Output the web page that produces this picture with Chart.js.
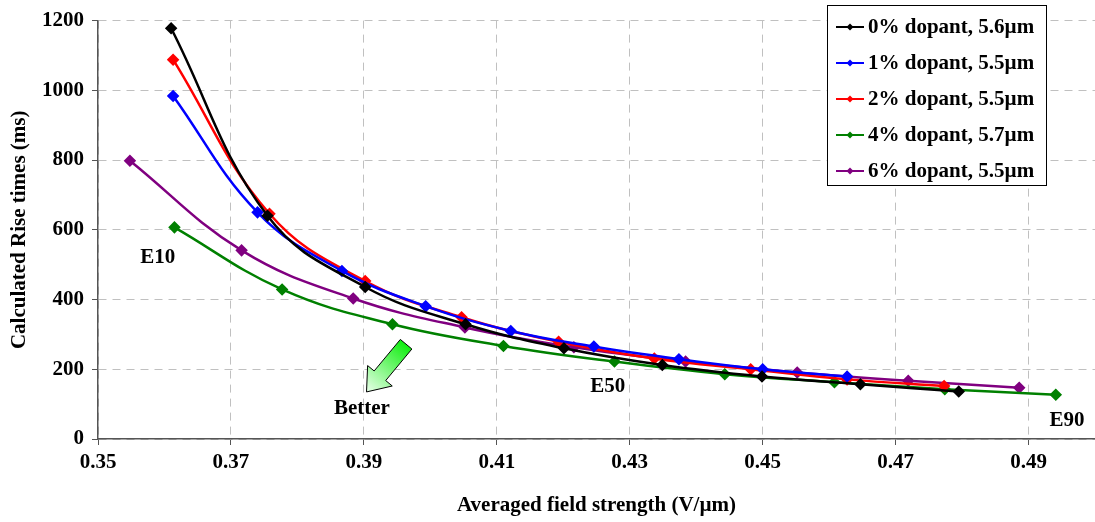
<!DOCTYPE html>
<html>
<head>
<meta charset="utf-8">
<script src="https://cdn.jsdelivr.net/npm/chart.js@4/dist/chart.umd.min.js"></script>
<style>
  html, body { margin: 0; padding: 0; background: #fff; overflow: hidden; }
  #wrap { width: 1102px; height: 522px; }
</style>
</head>
<body>
<div id="wrap"><canvas id="riseChart" width="1102" height="522"></canvas></div>
<script>
// series data (x = averaged field strength V/um, y = rise time ms)
const x0 = [0.3610, 0.3755, 0.3902, 0.4053, 0.4201, 0.4349, 0.4499, 0.4647, 0.4795];
const y0 = [1178, 640, 436, 329, 260, 212, 179, 157, 136];
const x1 = [0.3613, 0.3740, 0.3867, 0.3993, 0.4121, 0.4246, 0.4374, 0.4500, 0.4627];
const y1 = [984, 650, 482, 381, 310, 265, 229, 200, 179];
const x2 = [0.3613, 0.3758, 0.3902, 0.4047, 0.4193, 0.4337, 0.4482, 0.4627, 0.4773];
const y2 = [1088, 646, 453, 349, 279, 231, 200, 171, 152];
const x4 = [0.3615, 0.3777, 0.3943, 0.4110, 0.4277, 0.4443, 0.4608, 0.4774, 0.4941];
const y4 = [607, 429, 329, 267, 222, 186, 163, 143, 127];
const x6 = [0.3548, 0.3716, 0.3884, 0.4052, 0.4216, 0.4384, 0.4552, 0.4719, 0.4886];
const y6 = [798, 541, 403, 320, 263, 222, 191, 167, 147];

const seriesLabels = ['0% dopant, 5.6µm', '1% dopant, 5.5µm', '2% dopant, 5.5µm', '4% dopant, 5.7µm', '6% dopant, 5.5µm'];
const seriesColors = ['#000000', '#0000ff', '#ff0000', '#008000', '#800080'];
const xTickValues = [0.35, 0.37, 0.39, 0.41, 0.43, 0.45, 0.47, 0.49];
const yTickValues = [0, 200, 400, 600, 800, 1000, 1200];

// text notes on the plot, placed in data units
const notes = [
  { text: 'E10', x: 0.3590, y: 521 },
  { text: 'Better', x: 0.3897, y: 87 },
  { text: 'E50', x: 0.4267, y: 150 },
  { text: 'E90', x: 0.4958, y: 52 }
];
const arrowTip = { x: 0.3904, y: 135 };

const FONT = '"Liberation Serif", "Times New Roman", serif';
const FS = 21;

function pts(xs, ys) {
  return xs.map((v, i) => ({ x: v, y: ys[i] }));
}

const allX = [x0, x1, x2, x4, x6];
const allY = [y0, y1, y2, y4, y6];

const datasets = seriesLabels.map((lbl, i) => ({
  label: lbl,
  data: pts(allX[i], allY[i]),
  borderColor: seriesColors[i],
  backgroundColor: seriesColors[i],
  borderWidth: 2.5,
  pointStyle: 'rectRot',
  pointRadius: 4.5,
  pointHoverRadius: 4.5,
  tension: 0.4,
  fill: false
}));

// draws the boxed legend, the E-labels and the green "Better" arrow
const extrasPlugin = {
  id: 'extras',
  afterDatasetsDraw(chart) {
    const ctx = chart.ctx;
    const xs = chart.scales.x, ys = chart.scales.y;
    ctx.save();

    // notes
    ctx.font = 'bold ' + FS + 'px ' + FONT;
    ctx.fillStyle = '#000';
    ctx.textAlign = 'center';
    ctx.textBaseline = 'middle';
    notes.forEach(n => {
      ctx.fillText(n.text, xs.getPixelForValue(n.x), ys.getPixelForValue(n.y));
    });

    // block arrow pointing down-left
    const tx = xs.getPixelForValue(arrowTip.x), ty = ys.getPixelForValue(arrowTip.y);
    const ang = Math.atan2(-47, 39); // direction tip -> tail
    const L = 62, headLen = 21, headW = 16, shaftW = 7.5;
    const ux = Math.cos(ang), uy = Math.sin(ang);
    const px = -uy, py = ux;
    const p = (a, b) => [tx + ux * a + px * b, ty + uy * a + py * b];
    const shape = [p(0, 0), p(headLen, headW), p(headLen, shaftW), p(L, shaftW), p(L, -shaftW), p(headLen, -shaftW), p(headLen, -headW)];
    const grad = ctx.createLinearGradient(p(L, 0)[0], p(L, 0)[1], tx, ty);
    grad.addColorStop(0, '#11ee11');
    grad.addColorStop(1, '#eaffea');
    ctx.beginPath();
    shape.forEach((q, i) => i ? ctx.lineTo(q[0], q[1]) : ctx.moveTo(q[0], q[1]));
    ctx.closePath();
    ctx.fillStyle = grad;
    ctx.fill();
    ctx.strokeStyle = '#000';
    ctx.lineWidth = 1;
    ctx.stroke();

    // legend box
    const bx = 827.5, by = 5.5, bw = 219, bh = 180;
    ctx.fillStyle = '#fff';
    ctx.fillRect(bx, by, bw, bh);
    ctx.strokeStyle = '#000';
    ctx.lineWidth = 1;
    ctx.strokeRect(bx, by, bw, bh);
    ctx.textAlign = 'left';
    ctx.font = 'bold ' + FS + 'px ' + FONT;
    chart.data.datasets.forEach((ds, i) => {
      const yy = 27 + i * 36;
      ctx.strokeStyle = ds.borderColor;
      ctx.lineWidth = 2;
      ctx.beginPath();
      ctx.moveTo(836, yy);
      ctx.lineTo(864, yy);
      ctx.stroke();
      ctx.fillStyle = ds.borderColor;
      ctx.beginPath();
      ctx.moveTo(850, yy - 3.5);
      ctx.lineTo(853.5, yy);
      ctx.lineTo(850, yy + 3.5);
      ctx.lineTo(846.5, yy);
      ctx.closePath();
      ctx.fill();
      ctx.fillStyle = '#000';
      ctx.fillText(ds.label, 868, yy + 1);
    });
    ctx.restore();
  }
};

const axisFont = { family: FONT, size: FS, weight: 'bold' };

const gridOpts = {
  color: '#c0c0c0',
  lineWidth: 1,
  drawTicks: true,
  tickColor: '#555',
  tickLength: 6,
  tickBorderDash: []
};

new Chart('riseChart', {
  type: 'line',
  data: { datasets: datasets },
  options: {
    responsive: false,
    animation: false,
    layout: { padding: { top: 19, right: 1, left: 0, bottom: 0 } },
    plugins: {
      legend: { display: false },
      tooltip: { enabled: false }
    },
    scales: {
      x: {
        type: 'linear',
        min: 0.35,
        max: 0.50,
        border: { display: true, color: '#555', width: 1.5, dash: [8, 6] },
        grid: gridOpts,
        afterBuildTicks: s => { s.ticks = xTickValues.map(v => ({ value: v })); },
        ticks: {
          color: '#000',
          padding: 5,
          maxRotation: 0,
          font: axisFont,
          callback: v => v.toFixed(2)
        },
        title: {
          display: true,
          text: 'Averaged field strength (V/µm)',
          color: '#000',
          font: axisFont,
          padding: { top: 16 }
        },
        afterFit: s => { s.height = 83; }
      },
      y: {
        type: 'linear',
        min: 0,
        max: 1200,
        border: { display: true, color: '#555', width: 1.5, dash: [8, 6] },
        grid: gridOpts,
        afterBuildTicks: s => { s.ticks = yTickValues.map(v => ({ value: v })); },
        ticks: {
          color: '#000',
          padding: 8,
          font: axisFont,
          callback: v => String(v)
        },
        title: {
          display: true,
          text: 'Calculated Rise times (ms)',
          color: '#000',
          font: axisFont,
          padding: { top: 7, bottom: 0 }
        },
        afterFit: s => { s.width = 98; }
      }
    }
  },
  plugins: [extrasPlugin]
});
</script>
</body>
</html>
